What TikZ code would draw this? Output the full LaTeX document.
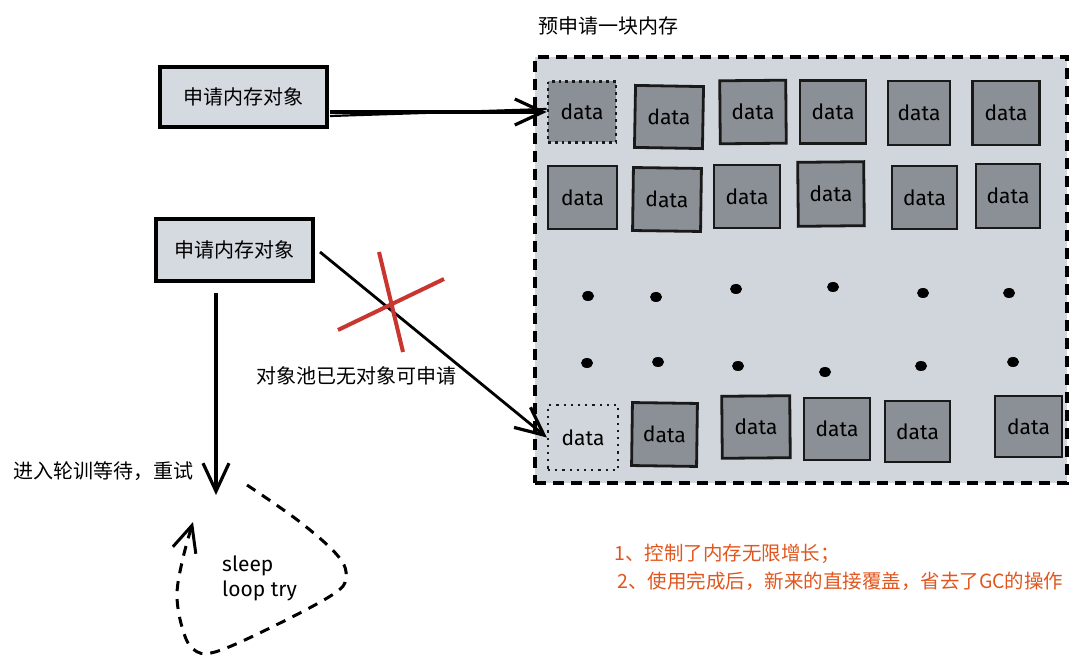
\documentclass[tikz,border=0pt]{standalone}
\usepackage{fontspec}
\setmainfont{Noto Sans CJK SC}
\newfontfamily\hand{Fira Sans}
\usetikzlibrary{arrows.meta}
\definecolor{boxfill}{HTML}{D5D9E0}
\definecolor{poolfill}{HTML}{D1D5DC}
\definecolor{datafill}{HTML}{8A9096}
\definecolor{redx}{HTML}{C9352F}
\definecolor{notecol}{HTML}{E0561E}
\begin{document}
\begin{tikzpicture}[x=1pt,y=-1pt,
  reqbox/.style={draw=black, line width=3.5pt, fill=boxfill, inner sep=0pt,
    font=\fontsize{20}{23}\selectfont},
  pool/.style={draw=black, line width=3.4pt, fill=poolfill, dash pattern=on 11pt off 7pt, inner sep=0pt},
  databox/.style={draw=black!90, line width=2.8pt, fill=datafill, inner sep=0pt,
    font=\hand\fontsize{21}{24}\selectfont},
  freebox/.style={databox, dash pattern=on 2.8pt off 4pt},
  emptybox/.style={databox, fill=none, line width=2.2pt, dash pattern=on 2.2pt off 5pt},
  lbl/.style={font=\fontsize{20}{23}\selectfont, inner sep=0pt},
  note/.style={font=\fontsize{19.5}{22}\selectfont, text=notecol, anchor=west, inner sep=0pt},
  handtxt/.style={font=\hand\fontsize{21}{24}\selectfont, anchor=west, inner sep=0pt},
  arr/.style={line width=3.4pt, -{Straight Barb[length=28pt, width=26pt, line width=3.2pt]}},
  xline/.style={draw=redx, line width=4pt},
]
\useasboundingbox (0,0) rectangle (1080,668);

% pool
\node[pool, minimum width=532pt, minimum height=426pt] (pool) at (801,270) {};
\node[lbl] (title) at (608,26) {预申请一块内存};

% request boxes
\node[reqbox, minimum width=167pt, minimum height=60pt] (req1) at (243.5,97) {申请内存对象};
\node[reqbox, minimum width=157pt, minimum height=62pt] (req2) at (234.5,250) {申请内存对象};

% data boxes row 1
\node[freebox, minimum width=68pt, minimum height=61pt] (d11) at (582,112) {data};
\node[databox, minimum width=68pt, minimum height=62pt, rotate=-1] (d12) at (669,117) {data};
\node[databox, minimum width=66pt, minimum height=63pt, rotate=0.5] (d13) at (753,112) {data};
\node[databox, minimum width=66pt, minimum height=63pt] (d14) at (833,112) {data};
\node[databox, minimum width=62pt, minimum height=64pt] (d15) at (919,113) {data};
\node[databox, minimum width=67pt, minimum height=64pt] (d16) at (1006,113) {data};
% row 2
\node[databox, minimum width=69pt, minimum height=63pt] (d21) at (582.5,197.5) {data};
\node[databox, minimum width=68pt, minimum height=63pt, rotate=-0.8] (d22) at (667,199.5) {data};
\node[databox, minimum width=66pt, minimum height=63pt] (d23) at (747,196.5) {data};
\node[databox, minimum width=66pt, minimum height=64pt, rotate=0.6] (d24) at (831,194) {data};
\node[databox, minimum width=65pt, minimum height=63pt] (d25) at (924.5,197.5) {data};
\node[databox, minimum width=64pt, minimum height=64pt] (d26) at (1008,196) {data};
% row 3
\node[emptybox, minimum width=70pt, minimum height=65pt] (d31) at (583,437.5) {data};
\node[databox, minimum width=65pt, minimum height=63pt, rotate=-0.8] (d32) at (664.5,434.5) {data};
\node[databox, minimum width=68pt, minimum height=62pt, rotate=0.5] (d33) at (756,427) {data};
\node[databox, minimum width=66pt, minimum height=62pt] (d34) at (837,429) {data};
\node[databox, minimum width=65pt, minimum height=61pt] (d35) at (917.5,431.5) {data};
\node[databox, minimum width=67pt, minimum height=61pt] (d36) at (1028.5,426.5) {data};

% dots
\foreach \px/\py in {588/296, 656/297, 736/289, 833/287, 923/293, 1009/293,
                     587/363, 658/362, 738/366, 825/372, 921/366, 1013/362}
  \fill (\px,\py) ellipse (6pt and 5pt);

% arrow 1 (double sketch line)
\coordinate (a1s) at (330,112);
\coordinate (a1t) at (330,116);
\draw[line width=2.2pt] (a1t) -- ([yshift=3pt]d11.west);
\draw[arr] (a1s) -- (d11.west);

% arrow 2
\coordinate (a2s) at (320,252);
\draw[arr, line width=2.8pt] (a2s) -- (d31.west);

% red cross
\coordinate (x1a) at (379,252);
\coordinate (x1b) at (403,352);
\coordinate (x2a) at (338,330);
\coordinate (x2b) at (444,279);
\draw[xline] (x1a) -- (x1b);
\draw[xline] (x2a) -- (x2b);
\node[lbl] (full) at (356,376) {对象池已无对象可申请};

% vertical arrow
\coordinate (vs) at (216,293);
\coordinate (vt) at (216,495);
\draw[arr] (vs) -- (vt);
\node[lbl, anchor=west] (wait) at (13,471) {进入轮训等待，重试};

% loop
\coordinate (ls) at (247,485);
\coordinate (lt) at (193,522);
\draw[line width=3pt, dash pattern=on 10pt off 8pt,
      -{Straight Barb[length=26pt, width=24pt, line width=3pt]}]
  plot[smooth, tension=0.6] coordinates {(ls) (300,522) (338,556) (346,578) (332,595)
     (272,627) (215,652) (193,649) (182,627) (177,594) (183,558) (lt)};
\node[handtxt] (sleep) at (222,566) {sleep};
\node[handtxt] (loop) at (222,591) {loop try};

% notes
\node[note] (n1) at (614,554) {1、控制了内存无限增长；};
\node[note] (n2) at (617,581) {2、使用完成后，新来的直接覆盖，省去了GC的操作};
\end{tikzpicture}
\end{document}
